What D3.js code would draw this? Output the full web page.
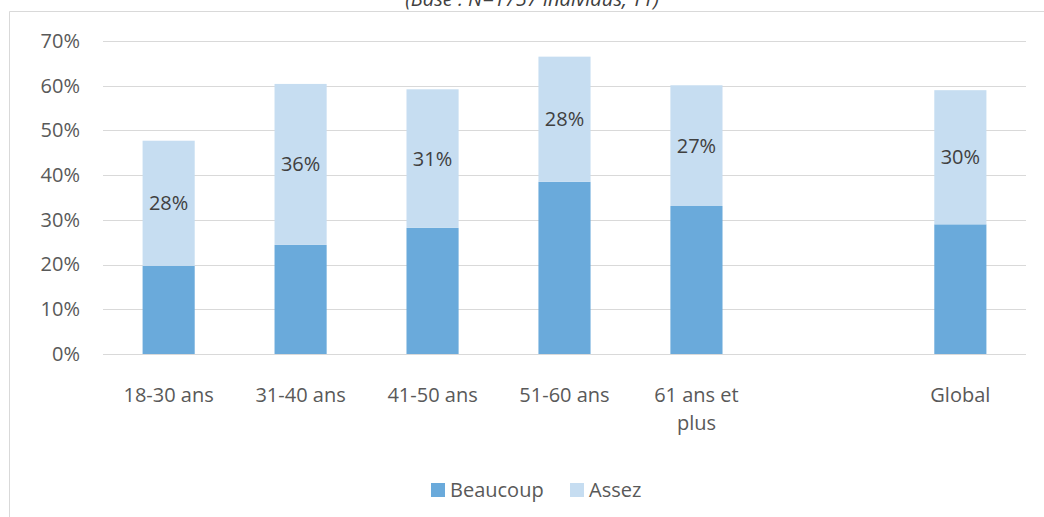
<!DOCTYPE html>
<html>
<head>
<meta charset="utf-8">
<script src="https://cdn.jsdelivr.net/npm/d3@7"></script>
<style>
  body { margin: 0; background: #fff; }
  svg { display: block; font-family: "Open Sans", sans-serif; }
</style>
</head>
<body>
<div id="chart"></div>
<script>
let categories = ["18-30 ans", "31-40 ans", "41-50 ans", "51-60 ans", "61 ans et plus", "", "Global"]
let beaucoup = [19.7, 24.4, 28.2, 38.5, 33.1, null, 29.0]
let assez = [28, 36, 31, 28, 27, null, 30]
let assezLabels = ["28%", "36%", "31%", "28%", "27%", "", "30%"]
let yTicks = [0, 10, 20, 30, 40, 50, 60, 70]
let seriesNames = ["Beaucoup", "Assez"]
let colors = ["#6aaadb", "#c6ddf1"]

let width = 1044
let height = 517
let margins = { top: 41, right: 18, bottom: 163, left: 103 }
let plotW = width - margins.left - margins.right
let plotH = height - margins.top - margins.bottom
let fontSize = "20px"

let svg = d3.select("#chart").append("svg")
    .attr("width", width)
    .attr("height", height)

// outer chart frame (top and left edges visible)
svg.append("line").attr("x1", 9.5).attr("x2", width).attr("y1", 11.5).attr("y2", 11.5)
    .attr("stroke", "#d9d9d9")
svg.append("line").attr("x1", 9.5).attr("x2", 9.5).attr("y1", 11.5).attr("y2", height)
    .attr("stroke", "#d9d9d9")

// subtitle, cut off at the top like in the source
svg.append("text")
    .attr("x", 532).attr("y", 6)
    .attr("text-anchor", "middle")
    .style("font-size", fontSize)
    .style("font-style", "italic")
    .attr("fill", "#404040")
    .text("(Base : N=1757 individus, T1)")

let g = svg.append("g").attr("transform", `translate(${margins.left}, ${margins.top})`)

let x = d3.scaleBand().domain(d3.range(categories.length)).range([0, plotW]).paddingInner(0.605).paddingOuter(0.3)
let y = d3.scaleLinear().domain([0, 70]).range([plotH, 0])

// gridlines
g.append("g").selectAll("line").data(yTicks).join("line")
    .attr("x1", 0).attr("x2", plotW)
    .attr("y1", d => Math.round(y(d)) + 0.5).attr("y2", d => Math.round(y(d)) + 0.5)
    .attr("stroke", "#d9d9d9").attr("stroke-width", 1)

// y axis labels
let yAxis = g.append("g").call(d3.axisLeft(y).tickValues(yTicks).tickFormat(d => d + "%").tickSize(0).tickPadding(23))
yAxis.select(".domain").remove()
yAxis.selectAll("text").style("font-size", fontSize).style("font-family", "Open Sans, sans-serif").attr("fill", "#595959")

// stacked bars
let stackRows = categories.map((c, i) => ({ i: i, Beaucoup: beaucoup[i] || 0, Assez: assez[i] || 0 }))
let stacked = d3.stack().keys(seriesNames)(stackRows)

g.append("g").selectAll("g").data(stacked).join("g")
    .attr("fill", (d, k) => colors[k])
    .selectAll("rect").data(d => d.filter(p => p.data.Beaucoup > 0)).join("rect")
    .attr("x", d => x(d.data.i))
    .attr("width", x.bandwidth())
    .attr("y", d => y(d[1]))
    .attr("height", d => y(d[0]) - y(d[1]))

// value labels on Assez segment
g.append("g").selectAll("text").data(stacked[1].filter(p => p.data.Assez > 0)).join("text")
    .attr("x", d => x(d.data.i) + x.bandwidth() / 2)
    .attr("y", d => (y(d[0]) + y(d[1])) / 2)
    .attr("dy", "0.35em")
    .attr("text-anchor", "middle")
    .style("font-size", fontSize)
    .attr("fill", "#404040")
    .text(d => assezLabels[d.data.i])

// category labels (wrap "61 ans et plus")
let xLabels = g.append("g").attr("transform", `translate(0, ${plotH})`)
categories.forEach((c, i) => {
    if (!c) return
    let lines = c === "61 ans et plus" ? ["61 ans et", "plus"] : [c]
    let t = xLabels.append("text")
        .attr("text-anchor", "middle")
        .style("font-size", fontSize)
        .attr("fill", "#595959")
    lines.forEach((ln, k) => {
        t.append("tspan")
            .attr("x", x(i) + x.bandwidth() / 2)
            .attr("y", 48 + k * 28)
            .text(ln)
    })
})

// legend
let legend = svg.append("g").attr("transform", "translate(431, 483)")
let legendX = [0, 139]
seriesNames.forEach((name, k) => {
    let item = legend.append("g").attr("transform", `translate(${legendX[k]}, 0)`)
    item.append("rect").attr("width", 14).attr("height", 14).attr("fill", colors[k])
    item.append("text").attr("x", 19).attr("y", 7).attr("dy", "0.35em")
        .style("font-size", fontSize).attr("fill", "#595959").text(name)
})
</script>
</body>
</html>
